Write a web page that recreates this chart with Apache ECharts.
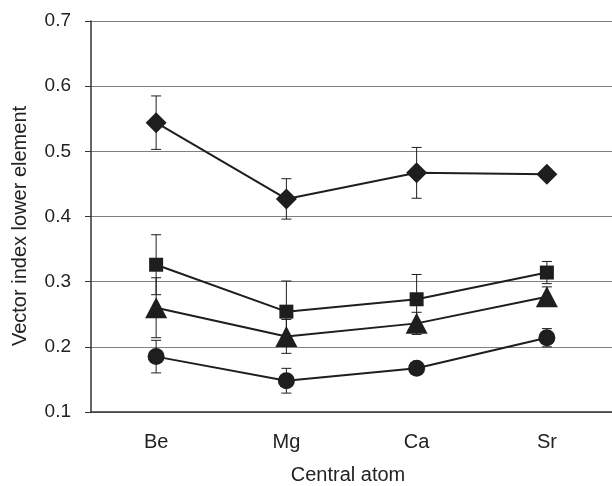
<!DOCTYPE html>
<html>
<head>
<meta charset="utf-8">
<script src="https://cdn.jsdelivr.net/npm/echarts@6/dist/echarts.min.js"></script>
<style>
  html, body { margin: 0; padding: 0; background: #fff; }
  #main { width: 612px; height: 486px; }
</style>
</head>
<body>
<div id="main"></div>
<script>
// categories and values
var categories = ['Be', 'Mg', 'Ca', 'Sr'];
var yTicks = [0.1, 0.2, 0.3, 0.4, 0.5, 0.6, 0.7];

var diamondVals = [0.544, 0.427, 0.467, 0.465];
var diamondErr = [0.041, 0.031, 0.039, 0];
var squareVals = [0.326, 0.254, 0.273, 0.314];
var squareErr = [0.046, 0.047, 0.038, 0.017];
var triangleVals = [0.260, 0.216, 0.236, 0.277];
var triangleErr = [0.046, 0.026, 0.017, 0.015];
var circleVals = [0.185, 0.148, 0.167, 0.214];
var circleErr = [0.025, 0.019, 0.005, 0.014];

var ink = '#1e1e1e';
var font = 'Liberation Sans, Arial, sans-serif';

// error bar data: [category index, value, error]
function errData(vals, errs) {
    var out = [];
    for (var i = 0; i < vals.length; i++) {
        out.push([i, vals[i], errs[i]]);
    }
    return out;
}

function renderErr(params, api) {
    var x = api.value(0), v = api.value(1), e = api.value(2);
    if (!e) return null;
    var top = api.coord([x, v + e]);
    var bot = api.coord([x, v - e]);
    var w = 5;
    var st = { stroke: ink, lineWidth: 1 };
    return {
        type: 'group',
        children: [
            { type: 'line', shape: { x1: top[0], y1: top[1], x2: bot[0], y2: bot[1] }, style: st },
            { type: 'line', shape: { x1: top[0] - w, y1: top[1], x2: top[0] + w, y2: top[1] }, style: st },
            { type: 'line', shape: { x1: bot[0] - w, y1: bot[1], x2: bot[0] + w, y2: bot[1] }, style: st }
        ]
    };
}

function lineSeries(vals, symbol, size) {
    return {
        type: 'line',
        data: vals,
        symbol: symbol,
        symbolSize: size,
        showAllSymbol: true,
        z: 3,
        lineStyle: { color: ink, width: 2 },
        itemStyle: { color: ink, borderWidth: 0 },
        emphasis: { disabled: true },
        animation: false
    };
}

function errSeries(vals, errs) {
    return {
        type: 'custom',
        data: errData(vals, errs),
        renderItem: renderErr,
        z: 2,
        silent: true,
        animation: false
    };
}

var chart = echarts.init(document.getElementById('main'));

var option = {
    animation: false,
    grid: { left: 91, top: 21, right: -10, bottom: 74 },
    xAxis: {
        type: 'category',
        data: categories,
        axisLine: { lineStyle: { color: '#333', width: 1.5 } },
        axisTick: { show: false },
        axisLabel: { color: '#222', fontSize: 20, fontFamily: font, margin: 20 }
    },
    yAxis: {
        type: 'value',
        min: yTicks[0],
        max: yTicks[yTicks.length - 1],
        interval: 0.1,
        axisLine: { show: true, lineStyle: { color: '#333', width: 1.5 } },
        axisTick: { show: true, length: 6, lineStyle: { color: '#333' } },
        axisLabel: {
            color: '#222', fontSize: 19, fontFamily: font, margin: 20,
            formatter: function (v) { return v.toFixed(1); }
        },
        splitLine: { lineStyle: { color: '#808080', width: 1.2 } }
    },
    graphic: [{
        type: 'text',
        x: 348,
        y: 475,
        style: {
            text: 'Central atom',
            fill: '#222',
            font: '20px ' + font,
            textAlign: 'center',
            textVerticalAlign: 'middle'
        }
    }, {
        type: 'text',
        x: 20,
        y: 226,
        rotation: Math.PI / 2,
        style: {
            text: 'Vector index lower element',
            fill: '#222',
            font: '20px ' + font,
            textAlign: 'center',
            textVerticalAlign: 'middle'
        }
    }],
    series: [
        errSeries(diamondVals, diamondErr),
        errSeries(squareVals, squareErr),
        errSeries(triangleVals, triangleErr),
        errSeries(circleVals, circleErr),
        lineSeries(diamondVals, 'diamond', 21),
        lineSeries(squareVals, 'rect', 14),
        lineSeries(triangleVals, 'triangle', [22, 21]),
        lineSeries(circleVals, 'circle', 17)
    ]
};

chart.setOption(option);
</script>
</body>
</html>
